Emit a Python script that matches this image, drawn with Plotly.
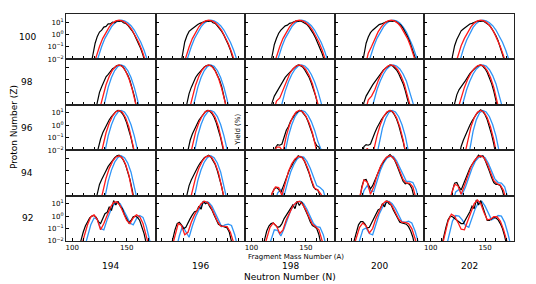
import plotly.graph_objects as go
from plotly.subplots import make_subplots

Z_LIST = [100, 98, 96, 94, 92]
N_LIST = [194, 196, 198, 200, 202]
X_TICKS = [100, 150]
X_TICK_TEXT = ["100", "150"]
Y_TICKS = [0.01, 0.1, 1, 10]
Y_TICK_TEXT = ["10<sup>\u22122</sup>", "10<sup>\u22121</sup>", "10<sup>0</sup>", "10<sup>1</sup>"]

# Each panel (columns N = 194 ... 202): (first mass number A, mass step, log10 of yield in %)
# black = experiment, red / blue = two calculations

exp_Z100 = [
    (117, 2, [-2.5, -1.5, -0.7, -0.15, 0.2, 0.35, 0.6, 0.65, 0.85, 0.85, 1.0, 0.95, 1.1, 1.05, 1.1, 0.95, 0.9, 0.75, 0.55, 0.3, 0.0, -0.35, -0.75, -1.15, -1.65, -2.3]),
    (117, 2, [-2.6, -1.4, -0.6, -0.1, 0.25, 0.4, 0.55, 0.7, 0.8, 0.9, 0.95, 1.0, 1.1, 1.05, 1.1, 0.95, 0.9, 0.7, 0.5, 0.25, -0.05, -0.4, -0.8, -1.25, -1.75, -2.4]),
    (117, 2, [-2.6, -1.6, -0.8, -0.3, 0.1, 0.35, 0.5, 0.7, 0.75, 0.9, 0.95, 1.0, 1.1, 1.05, 1.1, 1.0, 0.9, 0.8, 0.6, 0.35, 0.05, -0.3, -0.7, -1.1, -1.55, -2.1, -2.8]),
    (119, 2, [-2.6, -1.5, -0.7, -0.2, 0.15, 0.35, 0.5, 0.65, 0.8, 0.85, 0.95, 1.0, 1.05, 1.1, 1.05, 1.1, 1.0, 0.9, 0.75, 0.5, 0.2, -0.15, -0.55, -1.0, -1.5, -2.1]),
    (118, 2, [-2.6, -1.6, -0.9, -0.4, 0.0, 0.3, 0.45, 0.6, 0.75, 0.85, 0.9, 1.0, 1.05, 1.1, 1.05, 1.1, 1.0, 0.9, 0.75, 0.5, 0.25, -0.1, -0.5, -0.95, -1.45, -2.0, -2.7]),
]
red_Z100 = [
    (119, 3, [-2.6, -1.72, -0.96, -0.31, 0.21, 0.62, 0.92, 1.09, 1.15, 1.10, 0.95, 0.71, 0.36, -0.08, -0.62, -1.26, -2.0, -2.84]),
    (119, 3, [-2.7, -1.8, -1.0, -0.33, 0.2, 0.62, 0.92, 1.09, 1.15, 1.09, 0.94, 0.68, 0.32, -0.15, -0.72, -1.4, -2.2]),
    (120, 3, [-2.6, -1.72, -0.96, -0.31, 0.21, 0.62, 0.92, 1.09, 1.15, 1.10, 0.95, 0.71, 0.36, -0.08, -0.62, -1.26, -2.0, -2.84]),
    (122, 3, [-2.6, -1.5, -0.96, -0.31, 0.21, 0.62, 0.92, 1.09, 1.15, 1.09, 0.92, 0.62, 0.21, -0.31, -0.96, -1.72, -2.6]),
    (122, 3, [-2.6, -1.72, -0.9, -0.31, 0.21, 0.62, 0.92, 1.09, 1.15, 1.09, 0.92, 0.62, 0.21, -0.31, -0.96, -1.72, -2.6]),
]
blue_Z100 = [
    (121, 3, [-2.6, -1.72, -0.96, -0.31, 0.21, 0.62, 0.92, 1.09, 1.15, 1.10, 0.95, 0.71, 0.36, -0.08, -0.62, -1.26, -2.0, -2.84]),
    (121, 3, [-2.6, -1.75, -0.98, -0.32, 0.2, 0.62, 0.92, 1.09, 1.15, 1.10, 0.95, 0.71, 0.36, -0.08, -0.62, -1.26, -2.0, -2.84]),
    (122, 3, [-2.6, -1.72, -0.96, -0.31, 0.21, 0.62, 0.92, 1.09, 1.15, 1.10, 0.95, 0.71, 0.36, -0.08, -0.62, -1.26, -2.0, -2.84]),
    (124, 3, [-2.6, -1.72, -0.96, -0.31, 0.21, 0.62, 0.92, 1.09, 1.15, 1.09, 0.92, 0.62, 0.21, -0.31, -0.96, -1.72, -2.6]),
    (124, 3, [-2.96, -2.0, -1.17, -0.46, 0.12, 0.57, 0.89, 1.09, 1.15, 1.10, 0.95, 0.71, 0.36, -0.08, -0.62, -1.26, -2.0, -2.84]),
]

exp_Z98 = [
    (121, 2, [-2.6, -1.8, -1.0, -0.55, -0.1, 0.25, 0.45, 0.7, 0.9, 1.0, 1.15, 1.2, 1.15, 1.0, 0.75, 0.4, -0.05, -0.6, -1.3, -2.2]),
    (121, 2, [-2.7, -1.9, -1.1, -0.6, -0.15, 0.2, 0.45, 0.65, 0.9, 1.05, 1.15, 1.2, 1.15, 1.0, 0.75, 0.4, 0.0, -0.55, -1.25, -2.1]),
    (117, 2, [-2.6, -1.8, -1.3, -1.0, -0.7, -0.35, -0.1, 0.2, 0.4, 0.6, 0.8, 0.95, 1.1, 1.2, 1.15, 1.05, 0.8, 0.55, 0.2, -0.25, -0.75, -1.3, -2.0, -2.8]),
    (119, 2, [-2.6, -1.8, -1.3, -0.95, -0.7, -0.4, -0.15, 0.15, 0.35, 0.55, 0.8, 0.95, 1.1, 1.2, 1.15, 1.0, 0.8, 0.5, 0.15, -0.3, -0.85, -1.45, -2.1, -2.9]),
    (120, 2, [-2.6, -1.8, -1.2, -0.8, -0.5, -0.3, -0.05, 0.25, 0.5, 0.7, 0.9, 1.05, 1.15, 1.2, 1.1, 0.9, 0.6, 0.2, -0.3, -0.9, -1.6, -2.4]),
]
red_Z98 = [
    (125, 3, [-2.39, -1.29, -0.39, 0.30, 0.80, 1.10, 1.2, 1.08, 0.72, 0.12, -0.72, -1.80, -3.1]),
    (125, 3, [-2.45, -1.3, -0.4, 0.3, 0.8, 1.1, 1.2, 1.08, 0.72, 0.14, -0.7, -1.75, -3.0]),
    (120, 3, [-2.6, -1.7, -1.45, -0.8, -0.08, 0.48, 0.88, 1.12, 1.2, 1.11, 0.82, 0.35, -0.3, -1.15, -2.19, -3.2]),
    (122, 3, [-2.6, -1.6, -1.3, -0.79, -0.08, 0.48, 0.88, 1.12, 1.2, 1.11, 0.82, 0.35, -0.3, -1.15, -2.19, -3.2]),
    (125, 3, [-2.33, -1.39, -0.6, 0.05, 0.55, 0.91, 1.13, 1.2, 1.09, 0.75, 0.19, -0.6, -1.61, -2.85]),
]
blue_Z98 = [
    (127, 3, [-2.85, -1.61, -0.6, 0.19, 0.75, 1.09, 1.2, 1.09, 0.75, 0.19, -0.6, -1.61, -2.85]),
    (127, 3, [-2.8, -1.6, -0.6, 0.2, 0.75, 1.09, 1.2, 1.09, 0.76, 0.2, -0.58, -1.6, -2.8]),
    (125, 3, [-2.92, -1.83, -0.9, -0.15, 0.44, 0.86, 1.12, 1.2, 1.12, 0.86, 0.44, -0.15, -0.9, -1.83, -2.92]),
    (127, 3, [-2.7, -1.67, -0.79, -0.08, 0.48, 0.88, 1.12, 1.2, 1.12, 0.88, 0.48, -0.08, -0.79, -1.67, -2.7]),
    (127, 3, [-2.7, -1.67, -0.79, -0.08, 0.48, 0.88, 1.12, 1.2, 1.11, 0.82, 0.35, -0.3, -1.15, -2.19, -3.2]),
]

exp_Z96 = [
    (122, 2, [-2.5, -1.7, -1.1, -0.6, -0.2, 0.15, 0.45, 0.7, 0.95, 1.1, 1.2, 1.15, 0.95, 0.65, 0.2, -0.35, -1.0, -1.8, -2.6]),
    (122, 2, [-2.8, -1.9, -1.2, -0.7, -0.3, 0.1, 0.4, 0.65, 0.9, 1.1, 1.2, 1.15, 0.95, 0.65, 0.2, -0.35, -1.0, -1.8, -2.6]),
    (120, 2, [-2.6, -1.8, -1.55, -1.6, -1.5, -0.9, -0.4, -0.1, 0.35, 0.6, 0.9, 1.05, 1.2, 1.15, 0.95, 0.7, 0.3, -0.15, -0.7, -1.3, -1.65, -1.75, -2.4]),
    (119, 2, [-2.6, -1.7, -1.55, -1.6, -1.5, -1.0, -0.6, -0.2, 0.15, 0.45, 0.7, 0.95, 1.1, 1.2, 1.1, 0.85, 0.5, 0.0, -0.6, -1.3, -2.1, -2.9]),
    (126, 2, [-2.5, -1.7, -1.2, -0.75, -0.4, 0.0, 0.35, 0.65, 0.9, 1.1, 1.25, 1.1, 0.85, 0.45, -0.1, -0.75, -1.5, -2.4]),
]
red_Z96 = [
    (125, 3, [-2.85, -1.61, -0.6, 0.19, 0.75, 1.09, 1.2, 1.05, 0.61, -0.12, -1.15, -2.47]),
    (125, 3, [-2.8, -1.55, -0.55, 0.2, 0.75, 1.1, 1.2, 1.05, 0.62, -0.1, -1.1, -2.4]),
    (120, 3, [-2.5, -1.75, -1.75, -2.1, -0.85, 0.05, 0.69, 1.07, 1.2, 1.09, 0.75, 0.19, -0.6, -1.61, -2.85]),
    (121, 3, [-2.5, -1.85, -2.2, -2.0, -0.85, 0.05, 0.69, 1.07, 1.2, 1.05, 0.61, -0.12, -1.15, -2.47]),
    (131, 3, [-2.47, -1.15, -0.12, 0.61, 1.05, 1.2, 1.05, 0.61, -0.12, -1.15, -2.47]),
]
blue_Z96 = [
    (127, 3, [-3.4, -2.0, -0.85, 0.05, 0.69, 1.07, 1.2, 1.07, 0.69, 0.05, -0.85, -2.0, -3.4]),
    (127, 3, [-3.3, -1.95, -0.82, 0.07, 0.7, 1.07, 1.2, 1.07, 0.7, 0.06, -0.83, -1.95, -3.3]),
    (128, 3, [-3.4, -2.0, -0.85, 0.05, 0.69, 1.07, 1.2, 1.1, 0.8, 0.3, -0.39, -1.29, -1.9, -2.6]),
    (132, 3, [-2.75, -1.33, -0.22, 0.57, 1.04, 1.2, 1.07, 0.69, 0.05, -0.85, -2.0, -3.4]),
    (133, 3, [-3.4, -1.75, -0.46, 0.46, 1.02, 1.2, 1.07, 0.69, 0.05, -0.85, -2.0, -3.4]),
]

exp_Z94 = [
    (121, 2, [-2.6, -1.8, -1.1, -0.7, -0.3, 0.0, 0.35, 0.6, 0.85, 1.05, 1.2, 1.25, 1.1, 0.85, 0.45, -0.05, -0.7, -1.5, -2.4]),
    (121, 2, [-2.7, -1.9, -1.2, -0.75, -0.35, 0.0, 0.3, 0.6, 0.85, 1.05, 1.15, 1.25, 1.1, 0.85, 0.5, 0.0, -0.6, -1.3, -2.2, -2.9]),
    (117, 2, [-2.5, -1.8, -1.45, -1.35, -1.5, -1.75, -1.3, -0.8, -0.35, 0.1, 0.4, 0.75, 0.95, 1.2, 1.1, 1.05, 0.7, 0.3, -0.2, -0.8, -1.3, -1.5, -1.55, -2.0, -2.6]),
    (117, 2, [-2.5, -1.3, -0.75, -0.7, -1.1, -1.45, -1.2, -0.8, -0.3, 0.1, 0.45, 0.7, 1.0, 1.15, 1.3, 1.1, 0.9, 0.5, 0.1, -0.4, -0.85, -1.05, -1.0, -1.1, -1.4, -2.1, -2.8]),
    (118, 2, [-2.6, -1.6, -1.0, -0.95, -1.3, -1.55, -1.1, -0.65, -0.2, 0.2, 0.5, 0.75, 1.0, 1.25, 1.1, 1.2, 0.85, 0.45, -0.05, -0.55, -0.95, -1.1, -1.1, -1.2, -1.6, -2.3]),
]
red_Z94 = [
    (125, 3, [-2.85, -1.61, -0.6, 0.19, 0.75, 1.09, 1.2, 1.03, 0.52, -0.33, -1.53, -3.06]),
    (125, 3, [-2.7, -1.5, -0.55, 0.2, 0.75, 1.1, 1.2, 1.05, 0.58, -0.15, -1.2, -2.5]),
    (116, 3, [-2.6, -1.8, -1.3, -1.35, -2.0, -0.9, -0.05, 0.55, 0.95, 1.15, 1.1, 0.75, 0.15, -0.7, -1.4, -1.55, -1.9, -2.6]),
    (115, 3, [-2.8, -1.7, -0.75, -0.9, -1.9, -1.3, -0.39, 0.3, 0.8, 1.1, 1.2, 1.05, 0.6, -0.05, -0.7, -1.0, -1.0, -1.3, -2.3]),
    (116, 3, [-2.7, -1.8, -1.1, -1.2, -1.9, -1.2, -0.4, 0.3, 0.8, 1.1, 1.2, 1.05, 0.55, -0.15, -0.8, -1.05, -1.15, -1.6, -2.6]),
]
blue_Z94 = [
    (127, 3, [-3.4, -2.0, -0.85, 0.05, 0.69, 1.07, 1.2, 1.05, 0.61, -0.12, -1.15, -2.47]),
    (127, 3, [-3.3, -1.9, -0.8, 0.08, 0.7, 1.07, 1.2, 1.05, 0.62, -0.1, -1.1, -2.4]),
    (121, 3, [-2.7, -1.8, -1.5, -2.0, -1.0, -0.1, 0.5, 0.95, 1.15, 1.1, 0.75, 0.2, -0.5, -1.2, -1.35, -1.6, -2.5]),
    (118, 3, [-2.6, -1.6, -1.2, -1.6, -1.7, -0.8, 0.0, 0.6, 1.0, 1.15, 1.15, 0.8, 0.25, -0.4, -0.85, -0.85, -0.95, -1.5, -2.6]),
    (120, 3, [-2.6, -1.7, -1.5, -1.9, -1.3, -0.5, 0.2, 0.75, 1.05, 1.2, 1.05, 0.6, -0.05, -0.65, -0.95, -1.0, -1.3, -2.2]),
]

exp_Z92 = [
    (106, 2, [-2.6, -1.9, -1.3, -0.8, -0.45, -0.15, 0.0, 0.05, -0.1, -0.45, -0.6, -0.2, 0.2, 0.3, 0.75, 0.45, 1.25, 0.9, 1.2, 0.8, 0.6, 0.1, -0.2, -0.55, -0.35, -0.05, 0.0, -0.1, -0.35, -0.8, -1.4, -2.2]),
    (108, 2, [-2.6, -1.8, -1.1, -0.6, -0.5, -0.7, -1.0, -0.9, -0.5, -0.2, 0.1, 0.35, 0.4, 0.8, 0.55, 1.2, 1.0, 1.1, 0.75, 0.5, 0.1, -0.3, -0.65, -0.75, -0.8, -0.85, -0.95, -1.3, -2.0, -2.8]),
    (110, 2, [-2.6, -1.8, -1.2, -0.8, -0.6, -0.55, -0.7, -0.9, -0.85, -0.6, -0.2, 0.1, 0.35, 0.6, 0.9, 0.6, 1.2, 0.85, 1.15, 0.8, 0.45, 0.0, -0.45, -0.75, -0.85, -1.0, -1.5, -2.3]),
    (110, 2, [-2.6, -1.9, -1.2, -0.7, -0.45, -0.45, -0.65, -0.95, -0.9, -0.55, -0.2, 0.2, 0.5, 0.6, 1.0, 0.75, 1.25, 1.0, 0.9, 0.5, 0.15, -0.25, -0.5, -0.55, -0.6, -0.65, -0.85, -1.2, -1.7, -2.5]),
    (110, 2, [-2.4, -1.6, -0.9, -0.3, 0.0, -0.05, -0.2, -0.35, -0.5, -0.6, -0.6, -0.3, 0.1, 0.35, 0.8, 0.6, 1.3, 0.9, 1.25, 0.7, 0.2, -0.35, -0.35, -0.2, -0.1, -0.15, -0.3, -0.6, -1.0, -1.6, -2.4]),
]
red_Z92 = [
    (108, 3, [-2.5, -1.5, -0.7, -0.05, 0.1, -0.3, -1.1, -0.6, 0.1, 0.7, 1.1, 1.15, 0.85, 0.3, -0.35, -0.6, -0.15, 0.1, -0.05, -0.6, -1.6, -2.6]),
    (109, 3, [-2.6, -1.6, -0.6, -0.75, -1.5, -1.3, -0.5, 0.1, 0.6, 1.0, 1.2, 1.1, 0.75, 0.2, -0.4, -0.8, -0.85, -0.85, -1.3, -2.1, -3.0]),
    (111, 3, [-2.7, -1.8, -0.9, -0.55, -0.8, -1.4, -1.1, -0.3, 0.3, 0.8, 1.1, 1.2, 0.95, 0.5, -0.1, -0.65, -0.85, -1.1, -2.0, -2.9]),
    (111, 3, [-2.6, -1.8, -0.9, -0.55, -0.8, -1.35, -1.0, -0.2, 0.45, 0.95, 1.2, 1.15, 0.8, 0.3, -0.25, -0.5, -0.5, -0.6, -1.0, -1.8, -2.8]),
    (110, 3, [-2.6, -1.5, -0.4, 0.15, 0.0, -0.5, -1.05, -1.1, -0.4, 0.4, 1.0, 1.3, 1.0, 0.3, -0.3, -0.25, -0.05, -0.05, -0.4, -1.1, -2.0, -2.9]),
]
blue_Z92 = [
    (111, 3, [-2.6, -1.6, -0.7, -0.15, -0.25, -1.0, -1.1, -0.3, 0.4, 0.9, 1.15, 1.0, 0.55, 0.0, -0.55, -0.7, -0.2, 0.05, -0.1, -0.8, -1.9, -2.8]),
    (113, 3, [-2.7, -1.6, -0.8, -1.2, -1.7, -0.8, -0.05, 0.5, 0.95, 1.15, 1.1, 0.8, 0.3, -0.3, -0.85, -0.7, -0.65, -0.75, -1.5, -2.6]),
    (115, 3, [-2.7, -1.9, -1.1, -1.15, -1.6, -1.0, -0.2, 0.45, 0.9, 1.1, 1.2, 1.0, 0.55, -0.05, -0.6, -0.85, -0.9, -1.5, -2.5]),
    (114, 3, [-2.8, -1.9, -1.1, -0.95, -1.4, -1.5, -0.6, 0.15, 0.7, 1.05, 1.2, 1.0, 0.6, 0.05, -0.45, -0.5, -0.4, -0.55, -1.2, -2.1, -3.0]),
    (114, 3, [-2.6, -1.4, -0.4, 0.05, 0.0, -0.3, -0.75, -0.9, -0.2, 0.6, 1.1, 1.2, 0.8, 0.2, -0.3, -0.15, 0.05, 0.0, -0.5, -1.4, -2.5]),
]

EXP = [exp_Z100, exp_Z98, exp_Z96, exp_Z94, exp_Z92]
RED = [red_Z100, red_Z98, red_Z96, red_Z94, red_Z92]
BLUE = [blue_Z100, blue_Z98, blue_Z96, blue_Z94, blue_Z92]

FONT = "DejaVu Sans"
C_BLUE = "#2f95f7"
C_RED = "#ff1a1a"

fig = make_subplots(rows=5, cols=5, horizontal_spacing=0, vertical_spacing=0)


def series_xy(entry):
    a0, step, logy = entry
    xs = [a0 + step * i for i in range(len(logy))]
    ys = [10 ** v for v in logy]
    return xs, ys


for r in range(5):
    for c in range(5):
        for data, color, width in ((BLUE, C_BLUE, 1.3), (EXP, "black", 1.2), (RED, C_RED, 1.3)):
            xs, ys = series_xy(data[r][c])
            fig.add_trace(go.Scatter(x=xs, y=ys, mode="lines",
                                     line=dict(color=color, width=width),
                                     hoverinfo="skip", showlegend=False),
                          row=r + 1, col=c + 1)
        fig.update_xaxes(range=[94.2, 176.6], tickmode="array", tickvals=X_TICKS,
                         ticktext=X_TICK_TEXT, ticks="inside", ticklen=3, tickwidth=0.8,
                         tickcolor="black", showline=True, linecolor="#222", linewidth=1,
                         minor=dict(ticks="inside", tick0=100, dtick=10, ticklen=3,
                                    tickwidth=0.8, tickcolor="black", showgrid=False),
                         mirror=True, showgrid=False, zeroline=False,
                         showticklabels=(r == 4 and c in (0, 2, 4)),
                         tickfont=dict(family=FONT, size=7, color="black"),
                         row=r + 1, col=c + 1)
        fig.update_yaxes(type="log", range=[-2, 1.65], tickmode="array", tickvals=Y_TICKS,
                         ticktext=Y_TICK_TEXT, ticks="inside", ticklen=3, tickwidth=0.8,
                         tickcolor="black", showline=True, linecolor="#222", linewidth=1,
                         mirror=True, showgrid=False, zeroline=False,
                         showticklabels=(c == 0 and r in (0, 2, 4)),
                         tickfont=dict(family=FONT, size=7, color="black"),
                         row=r + 1, col=c + 1)

ann = []
for r, z in enumerate(Z_LIST):
    ann.append(dict(text=str(z), x=-0.087, y=1 - (r + 0.5) / 5, xref="paper", yref="paper",
                    showarrow=False, xanchor="center", yanchor="middle",
                    font=dict(family=FONT, size=9, color="black")))
for c, n in enumerate(N_LIST):
    ann.append(dict(text=str(n), x=(c + 0.5) / 5, y=-0.109, xref="paper", yref="paper",
                    showarrow=False, xanchor="center", yanchor="middle",
                    font=dict(family=FONT, size=9, color="black")))
ann.append(dict(text="Neutron Number (N)", x=0.5, y=-0.157, xref="paper", yref="paper",
                showarrow=False, xanchor="center", yanchor="middle",
                font=dict(family=FONT, size=9, color="black")))
ann.append(dict(text="Proton Number (Z)", x=-0.117, y=0.5, xref="paper", yref="paper",
                showarrow=False, xanchor="center", yanchor="middle", textangle=-90,
                font=dict(family=FONT, size=9, color="black")))
ann.append(dict(text="Fragment Mass Number (A)", x=0.513, y=-0.069, xref="paper", yref="paper",
                showarrow=False, xanchor="center", yanchor="middle",
                font=dict(family=FONT, size=7, color="black")))
ann.append(dict(text="Yield (%)", x=0.384, y=0.49, xref="paper", yref="paper",
                showarrow=False, xanchor="center", yanchor="middle", textangle=-90,
                font=dict(family=FONT, size=7, color="black")))

# the page body adds an 8px offset, so the figure is sized to keep the plot grid in place
fig.update_layout(width=528, height=276, margin=dict(l=58, r=22, t=6, b=43),
                  paper_bgcolor="white", plot_bgcolor="white", showlegend=False,
                  annotations=ann, font=dict(family=FONT, size=8, color="black"))

fig.write_html("out.html")
